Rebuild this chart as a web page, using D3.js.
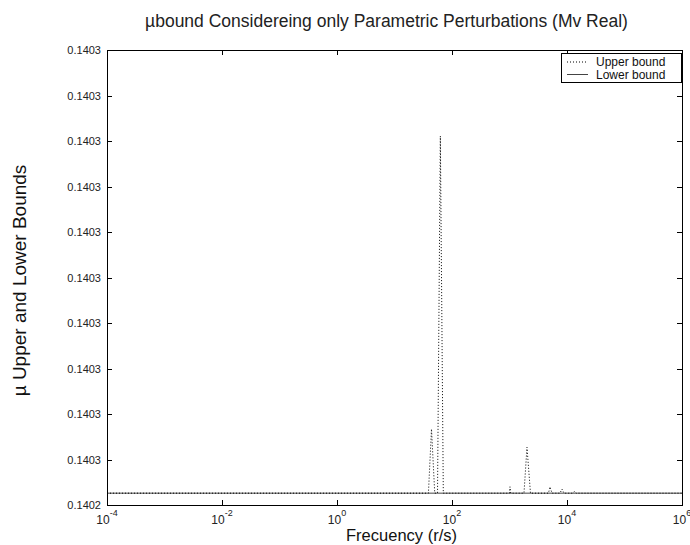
<!DOCTYPE html>
<html lang="en">
<head>
<meta charset="UTF-8">
<title>mu bound</title>
<script src="https://d3js.org/d3.v7.min.js"></script>
<style>
    body { margin: 0; background: #fff; }
    svg { display: block; font-family: "Liberation Sans", Arial, Helvetica, sans-serif; }
    .axis path, .axis line { stroke: #000; shape-rendering: crispEdges; }
    .axis text { font-size: 11px; fill: #222; }
</style>
</head>
<body>
<svg id="chart" width="690" height="545"></svg>
<script>
    // frequencies (r/s) and upper bound of mu
    const upperFreq = [1e-4, 38.9, 44.0, 50.1, 56.0, 62.7, 70.6, 1000, 1020, 1050,
        1786, 2014, 2317, 4764, 5058, 5483, 7551, 8185, 8873, 12706, 13490, 14350, 1e6];
    const upperVal = [0.14024926, 0.14024926, 0.14025067, 0.14024926, 0.14024926, 0.14025711, 0.14024926, 0.14024926, 0.1402494, 0.14024926,
        0.14024926, 0.14025027, 0.14024926, 0.14024926, 0.1402494, 0.14024926, 0.14024926, 0.14024935, 0.14024926, 0.14024926, 0.1402493, 0.14024926, 0.14024926];
    const lowerFreq = [1e-4, 1e6];
    const lowerVal = [0.14024926, 0.14024926];

    const xTicks = [1e-4, 1e-2, 1, 1e2, 1e4, 1e6];
    const xExp = ["-4", "-2", "0", "2", "4", "6"];
    const yTicks = [0.140249, 0.14025, 0.140251, 0.140252, 0.140253, 0.140254,
        0.140255, 0.140256, 0.140257, 0.140258, 0.140259];
    const yLabels = ["0.1402", "0.1403", "0.1403", "0.1403", "0.1403", "0.1403",
        "0.1403", "0.1403", "0.1403", "0.1403", "0.1403"];

    const margin = { top: 50, right: 8, bottom: 40, left: 107 },
        width = 575,
        height = 455;

    const svg = d3.select("#chart");
    const g = svg.append("g")
        .attr("transform", "translate(" + margin.left + "," + margin.top + ")");

    const x = d3.scaleLog().domain([1e-4, 1e6]).range([0, width]);
    const y = d3.scaleLinear().domain([yTicks[0], yTicks[yTicks.length - 1]]).range([height, 0]);

    // lines
    const line = d3.line().x(d => x(d[0])).y(d => y(d[1]));
    g.append("path")
        .datum(lowerFreq.map((f, i) => [f, lowerVal[i]]))
        .attr("d", line)
        .attr("fill", "none")
        .attr("stroke", "#444")
        .attr("stroke-width", 1);
    g.append("path")
        .datum(upperFreq.map((f, i) => [f, upperVal[i]]))
        .attr("d", line)
        .attr("fill", "none")
        .attr("stroke", "#000")
        .attr("stroke-width", 1)
        .attr("stroke-dasharray", "1,2");

    // box axes, ticks pointing inward
    g.append("g").attr("class", "axis")
        .attr("transform", "translate(0," + height + ")")
        .call(d3.axisBottom(x).tickValues(xTicks).tickSize(-5).tickSizeOuter(0).tickFormat(""));
    g.append("g").attr("class", "axis")
        .call(d3.axisTop(x).tickValues(xTicks).tickSize(-5).tickSizeOuter(0).tickFormat(""));
    g.append("g").attr("class", "axis")
        .call(d3.axisLeft(y).tickValues(yTicks).tickSize(-5).tickSizeOuter(0).tickPadding(6)
            .tickFormat((d, i) => yLabels[i]));
    g.append("g").attr("class", "axis")
        .attr("transform", "translate(" + width + ",0)")
        .call(d3.axisRight(y).tickValues(yTicks).tickSize(-5).tickSizeOuter(0).tickFormat(""));

    // x tick labels 10^n
    const xl = g.append("g").selectAll("text")
        .data(xTicks)
        .enter().append("text")
        .attr("x", d => x(d))
        .attr("y", height + 19)
        .attr("text-anchor", "middle")
        .style("font-size", "12px")
        .attr("fill", "#222");
    xl.append("tspan").text("10");
    xl.append("tspan")
        .attr("dy", -8)
        .style("font-size", "9px")
        .text((d, i) => xExp[i]);

    // title and axis labels
    svg.append("text")
        .attr("x", margin.left + width / 2 - 8)
        .attr("y", 27)
        .attr("text-anchor", "middle")
        .style("font-size", "17.5px")
        .attr("fill", "#222")
        .text("\u00b5bound Considereing only Parametric Perturbations (Mv Real)");

    svg.append("text")
        .attr("x", margin.left + width / 2 + 7)
        .attr("y", height + margin.top + 36)
        .attr("text-anchor", "middle")
        .style("font-size", "16.5px")
        .attr("fill", "#111")
        .text("Frecuency (r/s)");

    svg.append("text")
        .attr("transform", "translate(26," + (margin.top + height / 2 + 3) + ") rotate(-90)")
        .attr("text-anchor", "middle")
        .style("font-size", "19px")
        .attr("fill", "#111")
        .text("\u00b5 Upper and Lower Bounds");

    // legend
    const legend = g.append("g")
        .attr("transform", "translate(" + (width - 121) + ",3)");
    legend.append("rect")
        .attr("width", 120)
        .attr("height", 29)
        .attr("fill", "#fff")
        .attr("stroke", "#000")
        .attr("shape-rendering", "crispEdges");
    const items = [
        { label: "Upper bound", dash: "1,2", color: "#000" },
        { label: "Lower bound", dash: null, color: "#444" }
    ];
    const li = legend.selectAll(".li")
        .data(items)
        .enter().append("g")
        .attr("class", "li")
        .attr("transform", (d, i) => "translate(0," + (9 + i * 12.5) + ")");
    li.append("line")
        .attr("x1", 6).attr("x2", 27)
        .attr("stroke", d => d.color)
        .attr("stroke-dasharray", d => d.dash);
    li.append("text")
        .attr("x", 35)
        .attr("y", 4)
        .style("font-size", "12px")
        .attr("fill", "#111")
        .text(d => d.label);
</script>
</body>
</html>
